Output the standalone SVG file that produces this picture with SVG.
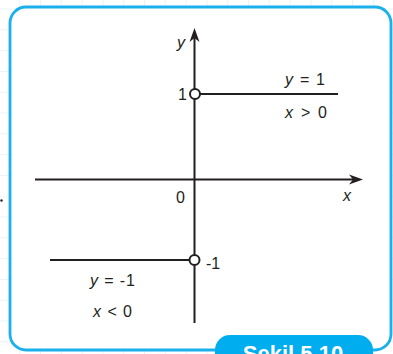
<svg xmlns="http://www.w3.org/2000/svg" width="393" height="354" viewBox="0 0 393 354">
  <style>
    .ax { stroke: #231f20; stroke-width: 2; fill: none; }
    .arr { fill: #231f20; stroke: none; }
    .hole { fill: #ffffff; stroke: #231f20; stroke-width: 2; }
    .t { font-family: "Liberation Sans", Arial, sans-serif; font-size: 16px; fill: #231f20; }
    .v { font-style: italic; }
    .tab { font-family: "Liberation Sans", Arial, sans-serif; font-size: 22px; font-weight: bold; fill: #ffffff; }
  </style>
  <defs>
    <pattern id="grid" x="19.2" y="8.5" width="20.8" height="20.8" patternUnits="userSpaceOnUse">
      <path d="M0 0 H20.8 M0 0 V20.8" stroke="#cfe9f7" stroke-width="1" fill="none"/>
    </pattern>
  </defs>
  <rect x="0" y="0" width="393" height="354" fill="#ffffff"/>
  <rect x="0" y="0" width="393" height="354" fill="url(#grid)"/>
  <circle cx="1.5" cy="200.5" r="1.2" fill="#231f20"/>

  <g id="frame">
    <rect x="10" y="7" width="381" height="343" rx="16" ry="16" fill="#ffffff" stroke="#1ab0ec" stroke-width="2.8"/>
  </g>

  <g id="axes">
    <line class="ax" x1="35" y1="179.5" x2="355" y2="179.5"/>
    <path class="arr" d="M363 179.5 L349 174.5 L353 179.5 L349 184.5 Z"/>
    <line class="ax" x1="194.5" y1="323" x2="194.5" y2="36"/>
    <path class="arr" d="M194.5 28 L189.5 42 L194.5 38 L199.5 42 Z"/>
    <text class="t v" x="343" y="201">x</text>
    <text class="t v" x="177" y="48">y</text>
    <text class="t" x="176" y="203">0</text>
  </g>

  <g id="connectors">
    <line class="ax" x1="200" y1="94" x2="338" y2="94"/>
    <line class="ax" x1="50" y1="260" x2="189" y2="260"/>
  </g>

  <g id="upper">
    <circle class="hole" cx="195" cy="94" r="5"/>
    <text class="t" x="187" y="100" text-anchor="end">1</text>
    <text class="t" x="285" y="85" textLength="40" lengthAdjust="spacing"><tspan class="v">y</tspan> = 1</text>
    <text class="t" x="285" y="118" textLength="42" lengthAdjust="spacing"><tspan class="v">x</tspan> &gt; 0</text>
  </g>

  <g id="lower">
    <circle class="hole" cx="194.5" cy="260" r="5"/>
    <text class="t" x="206" y="269">-1</text>
    <text class="t" x="90" y="286" textLength="45" lengthAdjust="spacing"><tspan class="v">y</tspan> = -1</text>
    <text class="t" x="93" y="317" textLength="39" lengthAdjust="spacing"><tspan class="v">x</tspan> &lt; 0</text>
  </g>

  <g id="caption">
    <rect x="215" y="335" width="158" height="40" rx="15" ry="15" fill="#00aeef"/>
    <text class="tab" x="293" y="361" text-anchor="middle">Şekil 5.10</text>
  </g>
</svg>
